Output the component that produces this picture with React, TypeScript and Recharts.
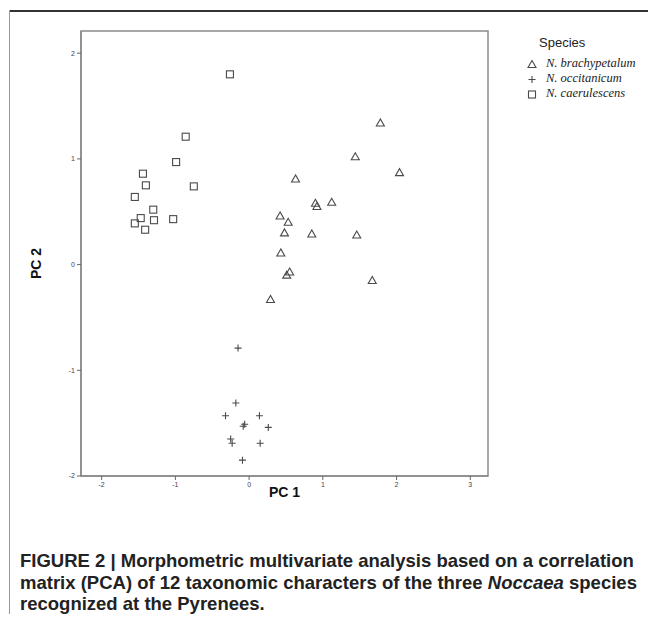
import {
  ReferenceArea,
  Scatter,
  ScatterChart,
  XAxis,
  YAxis,
} from "recharts";

// PC scores
const brachyPC1 = [1.78, 1.44, 2.04, 0.63, 0.9, 0.92, 1.12, 0.42, 0.53, 0.48, 0.85, 1.46, 0.43, 0.55, 0.51, 1.67, 0.29];
const brachyPC2 = [1.34, 1.02, 0.87, 0.81, 0.58, 0.55, 0.59, 0.46, 0.4, 0.3, 0.29, 0.28, 0.11, -0.07, -0.1, -0.15, -0.33];

const occitPC1 = [-0.15, -0.18, -0.32, 0.14, -0.06, -0.08, 0.26, -0.25, -0.23, 0.15, -0.09];
const occitPC2 = [-0.79, -1.31, -1.43, -1.43, -1.51, -1.53, -1.54, -1.65, -1.69, -1.69, -1.85];

const caerulPC1 = [-0.26, -0.86, -0.99, -1.44, -1.4, -0.75, -1.55, -1.3, -1.47, -1.29, -1.03, -1.55, -1.41];
const caerulPC2 = [1.8, 1.21, 0.97, 0.86, 0.75, 0.74, 0.64, 0.52, 0.44, 0.42, 0.43, 0.39, 0.33];

const xTicks = [-2, -1, 0, 1, 2, 3];
const yTicks = [-2, -1, 0, 1, 2];
const xDomain: [number, number] = [-2.28, 3.24];
const yDomain: [number, number] = [-2, 2.21];

const speciesNames = ["N. brachypetalum", "N. occitanicum", "N. caerulescens"];

const toPoints = (xs: number[], ys: number[]) => xs.map((x, i) => ({ x, y: ys[i] }));

const brachy = toPoints(brachyPC1, brachyPC2);
const occit = toPoints(occitPC1, occitPC2);
const caerul = toPoints(caerulPC1, caerulPC2);

const MARK = "#4a4a4a";

const Tri = ({ cx, cy }: any) => (
  <polygon
    points={`${cx},${cy - 4} ${cx - 4},${cy + 3} ${cx + 4},${cy + 3}`}
    fill="none"
    stroke={MARK}
    strokeWidth={1.1}
  />
);

const Plus = ({ cx, cy }: any) => (
  <path d={`M${cx - 3.5},${cy}H${cx + 3.5}M${cx},${cy - 3.5}V${cy + 3.5}`} stroke={MARK} strokeWidth={1.1} />
);

const Sq = ({ cx, cy }: any) => (
  <rect x={cx - 3.5} y={cy - 3.5} width={7} height={7} fill="none" stroke={MARK} strokeWidth={1.1} />
);

const legendIcons = [
  (x: number, y: number) => <Tri cx={x} cy={y} />,
  (x: number, y: number) => <Plus cx={x} cy={y} />,
  (x: number, y: number) => <Sq cx={x} cy={y} />,
];

// kept outside the chart so it doesn't eat plot height
function SpeciesLegend() {
  return (
    <div
      style={{
        position: "absolute",
        left: 526,
        top: 35,
        fontFamily: "Liberation Sans, Arial, sans-serif",
        color: "#222",
      }}
    >
      <div style={{ fontSize: 13, lineHeight: "16px", marginLeft: 13, marginBottom: 5 }}>Species</div>
      {speciesNames.map((name, i) => (
        <div key={name} style={{ display: "flex", alignItems: "center", height: 15 }}>
          <svg width={12} height={12} style={{ marginRight: 8 }}>
            {legendIcons[i](6, 6.5)}
          </svg>
          <span style={{ fontFamily: "Liberation Serif, serif", fontStyle: "italic", fontSize: 12.5 }}>{name}</span>
        </div>
      ))}
    </div>
  );
}

const tickStyle = { fontSize: 7, fill: "#444", fontFamily: "Liberation Sans, Arial, sans-serif" };
const axisLineStyle = { stroke: "#8a8a8a", strokeWidth: 1.5 };
const axisTitle = { fontSize: 14, fontWeight: 700, fill: "#111", fontFamily: "Liberation Sans, Arial, sans-serif" };

export default function App() {
  return (
    <div style={{ position: "relative", margin: -8, width: 656, height: 622, background: "#fff", overflow: "hidden" }}>
      <div style={{ position: "absolute", left: 9, top: 10, width: 647, height: 1.5, background: "#333" }} />
      <div style={{ position: "absolute", left: 9, top: 10, width: 1.3, height: 612, background: "#999" }} />

      <div style={{ position: "absolute", left: 0, top: 0 }}>
        <ScatterChart width={656} height={520} margin={{ top: 31, right: 168, left: 31, bottom: 4 }}>
          <XAxis
            type="number"
            dataKey="x"
            domain={xDomain}
            ticks={xTicks}
            allowDataOverflow
            height={40}
            tick={tickStyle}
            tickSize={4}
            axisLine={axisLineStyle}
            tickLine={{ stroke: "#666" }}
            label={{ value: "PC 1", position: "insideBottom", offset: 19, style: axisTitle }}
          />
          <YAxis
            type="number"
            dataKey="y"
            domain={yDomain}
            ticks={yTicks}
            allowDataOverflow
            width={50}
            tick={tickStyle}
            tickSize={4}
            axisLine={axisLineStyle}
            tickLine={{ stroke: "#666" }}
            label={{
              value: "PC 2",
              angle: -90,
              position: "insideLeft",
              offset: 5,
              dy: 10,
              style: { ...axisTitle, textAnchor: "middle" },
            }}
          />
          <ReferenceArea
            x1={xDomain[0]}
            x2={xDomain[1]}
            y1={yDomain[0]}
            y2={yDomain[1]}
            fill="none"
            stroke="#8a8a8a"
            strokeWidth={1.5}
            ifOverflow="visible"
          />
          <Scatter name={speciesNames[0]} data={brachy} shape={Tri} isAnimationActive={false} />
          <Scatter name={speciesNames[1]} data={occit} shape={Plus} isAnimationActive={false} />
          <Scatter name={speciesNames[2]} data={caerul} shape={Sq} isAnimationActive={false} />
        </ScatterChart>
      </div>

      <SpeciesLegend />

      <div
        style={{
          position: "absolute",
          left: 20,
          top: 550,
          fontFamily: "Liberation Sans, Arial, sans-serif",
          fontWeight: 700,
          fontSize: 18.5,
          lineHeight: "21.5px",
          color: "#222",
          whiteSpace: "nowrap",
        }}
      >
        FIGURE 2 | Morphometric multivariate analysis based on a correlation
        <br />
        matrix (PCA) of 12 taxonomic characters of the three <i>Noccaea</i> species
        <br />
        recognized at the Pyrenees.
      </div>
    </div>
  );
}
